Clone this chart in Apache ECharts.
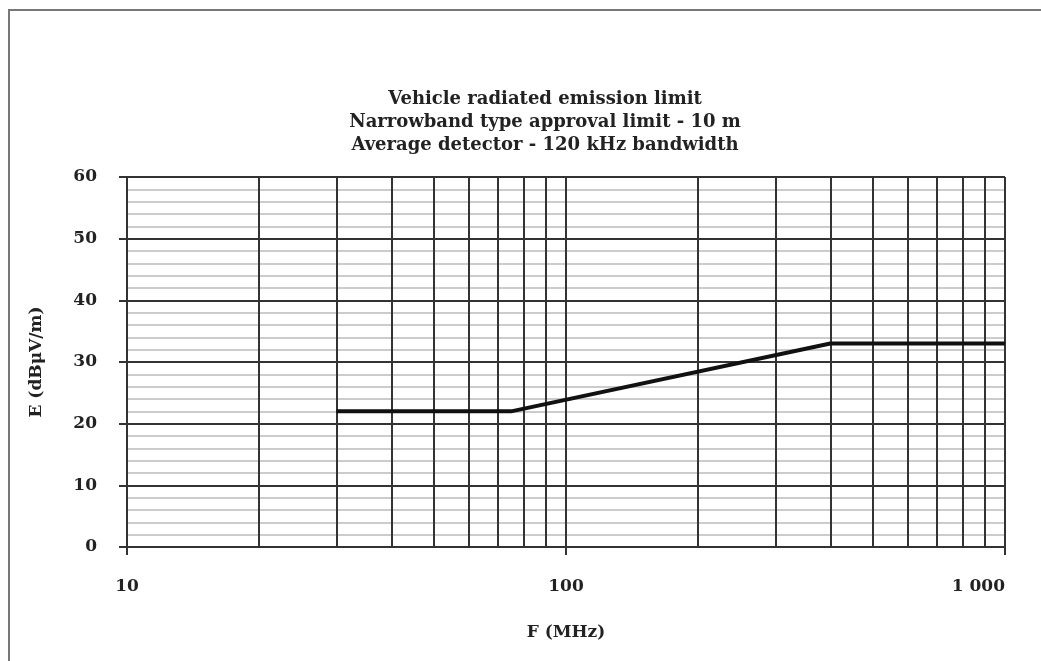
<!DOCTYPE html>
<html>
<head>
<meta charset="utf-8">
<script src="https://cdn.jsdelivr.net/npm/echarts@6/dist/echarts.min.js"></script>
<style>html,body{margin:0;padding:0;background:#fff}#c{width:1041px;height:661px}</style>
</head>
<body>
<div id="c"></div>
<script>
const titleLines = ['Vehicle radiated emission limit', 'Narrowband type approval limit - 10 m', 'Average detector - 120 kHz bandwidth'];
const xName = 'F (MHz)';
const yName = 'E (dBμV/m)';
const freqMHz = [30, 75, 400, 1000];
const limitDb = [22, 22, 33, 33];
const xGridLines = [20, 30, 40, 50, 60, 70, 80, 90, 200, 300, 400, 500, 600, 700, 800, 900];
const xTickLabels = {10: '10', 100: '100', 1000: '1 000'};

const FONT = 'DejaVu Serif';
const FS = 17;
const chart = echarts.init(document.getElementById('c'), null, {renderer: 'canvas'});
chart.setOption({
  animation: false,
  backgroundColor: '#fff',
  title: {
    text: titleLines.join('\n'),
    left: 540, top: 83, textAlign: 'center',
    textStyle: {fontFamily: FONT, fontSize: 18, fontWeight: 'bold', color: '#222', lineHeight: 23}
  },
  graphic: [{
    type: 'rect', silent: true,
    shape: {x: 9, y: 10, width: 1100, height: 700},
    style: {fill: 'none', stroke: '#777', lineWidth: 2}
  }],
  grid: {left: 127, right: 36, top: 177, bottom: 114, containLabel: false},
  xAxis: {
    type: 'log', logBase: 10, min: 10, max: 1000,
    name: xName, nameLocation: 'middle', nameGap: 77,
    nameTextStyle: {fontFamily: FONT, fontSize: FS, fontWeight: 'bold', color: '#222'},
    axisLine: {show: true, lineStyle: {color: '#333', width: 2}},
    axisTick: {show: true, length: 8, lineStyle: {color: '#333', width: 2}},
    axisLabel: {
      margin: 31, fontFamily: FONT, fontSize: FS, fontWeight: 'bold', color: '#222',
      alignMaxLabel: 'right',
      formatter: v => xTickLabels[Math.round(v)] || ''
    },
    splitLine: {show: true, lineStyle: {color: '#333', width: 2}},
    minorTick: {show: false}, minorSplitLine: {show: false}
  },
  yAxis: {
    type: 'value', min: 0, max: 60, interval: 10,
    name: yName, nameLocation: 'middle', nameGap: 82, nameRotate: 90,
    nameTextStyle: {fontFamily: FONT, fontSize: FS, fontWeight: 'bold', color: '#222'},
    axisLine: {show: true, lineStyle: {color: '#333', width: 2}},
    axisTick: {show: true, length: 8, lineStyle: {color: '#333', width: 2}},
    axisLabel: {margin: 30, fontFamily: FONT, fontSize: FS, fontWeight: 'bold', color: '#222'},
    splitLine: {show: true, lineStyle: {color: '#333', width: 2}},
    minorTick: {show: false, splitNumber: 5},
    minorSplitLine: {show: true, lineStyle: {color: '#cccccc', width: 2}}
  },
  series: [{
    type: 'line', z: 5,
    data: freqMHz.map((f, i) => [f, limitDb[i]]),
    symbol: 'none',
    lineStyle: {color: '#111', width: 4},
    markLine: {
      silent: true, symbol: 'none', animation: false,
      label: {show: false},
      lineStyle: {color: '#333', width: 2, type: 'solid'},
      data: xGridLines.map(v => ({xAxis: v}))
    }
  }]
});
</script>
</body>
</html>
